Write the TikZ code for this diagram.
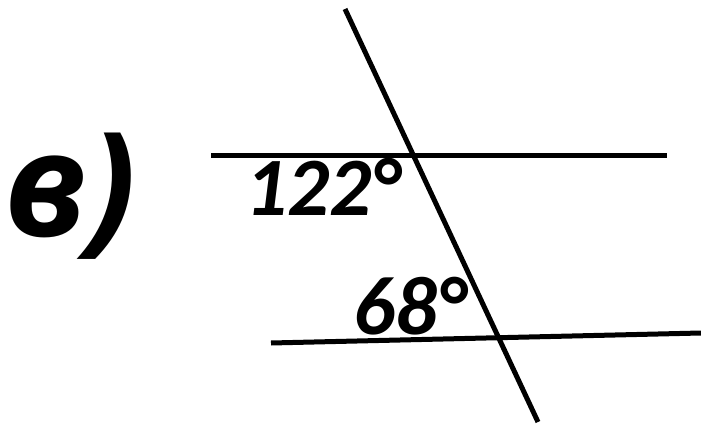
\documentclass[tikz,border=0pt]{standalone}
\usepackage{fontspec}
\setmainfont{Carlito}
\newfontfamily\labelfont{Open Sans}
\usetikzlibrary{positioning}

\begin{document}
\begin{tikzpicture}[
    x=1pt, y=-1pt,
    line/.style={line width=5pt},
    angle/.style={font=\fontsize{83}{83}\selectfont\bfseries\itshape, inner sep=0pt},
    part/.style={font=\labelfont\fontsize{145}{145}\selectfont\bfseries\itshape, inner sep=0pt}
]
\useasboundingbox (0,0) rectangle (701,425);
\coordinate (top1) at (211,155);
\coordinate (top2) at (667,155);
\coordinate (bot1) at (271,343);
\coordinate (bot2) at (701,333);
\coordinate (tr1) at (345,9);
\coordinate (tr2) at (538,422);
\draw[line] (top1) -- (top2);
\draw[line] (bot1) -- (bot2);
\draw[line] (tr1) -- (tr2);
\node[part, anchor=base west] (label) at (4,236) {в)};
\node[angle, anchor=base west] (upper) at (245,215) {122°};
\node[angle, anchor=base west] (lower) at (353,334) {68°};
\end{tikzpicture}
\end{document}
